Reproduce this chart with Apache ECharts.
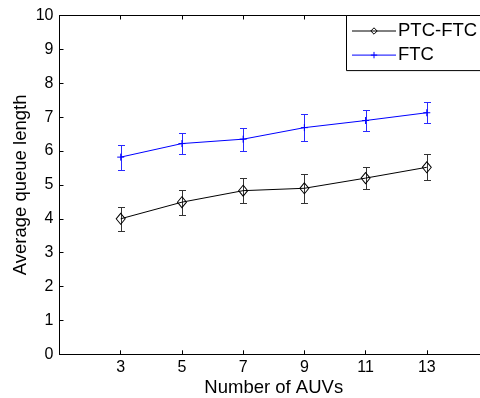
<!DOCTYPE html>
<html>
<head>
<meta charset="utf-8">
<script src="https://cdn.jsdelivr.net/npm/echarts/dist/echarts.min.js"></script>
<style>
  html, body { margin: 0; padding: 0; background: #fff; }
  #chart { width: 480px; height: 398px; }
</style>
</head>
<body>
<div id="chart"></div>
<script>
// Number of AUVs on the x axis
const auvCounts = [3, 5, 7, 9, 11, 13];
const xTicks = [3, 5, 7, 9, 11, 13];

// Mean queue length and half-width of the error bar for each scheme
const ptcFtcMean = [4.00, 4.49, 4.83, 4.90, 5.20, 5.52];
const ptcFtcErr  = [0.36, 0.37, 0.36, 0.43, 0.33, 0.39];
const ftcMean    = [5.82, 6.22, 6.35, 6.69, 6.90, 7.13];
const ftcErr     = [0.37, 0.30, 0.34, 0.40, 0.31, 0.31];

const FONT = '"Liberation Sans", Arial, sans-serif';

function pairs(xs, ys) { return xs.map((x, i) => [x, ys[i]]); }
function bars(xs, ys, es) { return xs.map((x, i) => [x, ys[i] - es[i], ys[i] + es[i]]); }

function errorBarSeries(name, data, color) {
  return {
    type: 'custom',
    name: name,
    data: data,
    z: 1,
    silent: true,
    renderItem: function (params, api) {
      const x = api.value(0);
      const top = api.coord([x, api.value(2)]);
      const bot = api.coord([x, api.value(1)]);
      const cx = Math.round(top[0]) + 0.5;
      const ty = Math.round(top[1]) + 0.5;
      const by = Math.round(bot[1]) + 0.5;
      const half = 3.5;
      const style = { stroke: color, lineWidth: 1, fill: null };
      return {
        type: 'group',
        children: [
          { type: 'line', shape: { x1: cx, y1: ty, x2: cx, y2: by }, style: style },
          { type: 'line', shape: { x1: cx - half, y1: ty, x2: cx + half, y2: ty }, style: style },
          { type: 'line', shape: { x1: cx - half, y1: by, x2: cx + half, y2: by }, style: style }
        ]
      };
    }
  };
}

const chart = echarts.init(document.getElementById('chart'), null, { renderer: 'canvas' });

chart.setOption({
  animation: false,
  backgroundColor: '#fff',
  textStyle: { fontFamily: FONT },
  // the axes box runs past the right edge of the canvas
  grid: {
    left: 59.5, top: 15.5, width: 428.5, height: 338.8,
    containLabel: false, outerBoundsMode: 'none'
  },
  legend: {
    data: ['PTC-FTC', 'FTC'],
    orient: 'vertical',
    left: 346.5,
    top: 15.5,
    padding: [6, 40, 6, 5],
    itemWidth: 44,
    itemHeight: 8,
    itemGap: 5.1,
    backgroundColor: '#fff',
    borderColor: '#000',
    borderWidth: 1,
    borderRadius: 0,
    lineStyle: { width: 1 },
    itemStyle: { borderWidth: 1 },
    textStyle: { fontFamily: FONT, fontSize: 18.5, color: '#000', padding: [0, 0, 0, -3] }
  },
  xAxis: [
    {
      type: 'value',
      min: 1,
      max: 15,
      name: 'Number of AUVs',
      nameLocation: 'middle',
      nameGap: 24,
      nameMoveOverlap: false,
      nameTextStyle: { fontFamily: FONT, fontSize: 18.5, color: '#000' },
      splitLine: { show: false },
      axisLine: { show: true, lineStyle: { color: '#000', width: 1 } },
      axisTick: { show: true, inside: true, length: 4, customValues: xTicks, lineStyle: { color: '#000' } },
      axisLabel: { show: true, customValues: xTicks, margin: 5, fontFamily: FONT, fontSize: 16, color: '#000' }
    },
    {
      type: 'value',
      position: 'top',
      min: 1,
      max: 15,
      splitLine: { show: false },
      axisLine: { show: true, onZero: false, lineStyle: { color: '#000', width: 1 } },
      axisTick: { show: true, inside: true, length: 4, customValues: xTicks, lineStyle: { color: '#000' } },
      axisLabel: { show: false }
    }
  ],
  yAxis: {
    type: 'value',
    min: 0,
    max: 10,
    interval: 1,
    name: 'Average queue length',
    nameLocation: 'middle',
    nameGap: 29,
    nameMoveOverlap: false,
    nameTextStyle: { fontFamily: FONT, fontSize: 18.5, color: '#000' },
    splitLine: { show: false },
    axisLine: { show: true, lineStyle: { color: '#000', width: 1 } },
    axisTick: { show: true, inside: true, length: 4, lineStyle: { color: '#000' } },
    axisLabel: { margin: 6, fontFamily: FONT, fontSize: 16, color: '#000' }
  },
  series: [
    errorBarSeries('ptc-err', bars(auvCounts, ptcFtcMean, ptcFtcErr), '#333'),
    errorBarSeries('ftc-err', bars(auvCounts, ftcMean, ftcErr), '#2a2aff'),
    {
      name: 'PTC-FTC',
      type: 'line',
      data: pairs(auvCounts, ptcFtcMean),
      z: 3,
      symbol: 'diamond',
      symbolSize: [9, 11],
      showAllSymbol: true,
      lineStyle: { color: '#000', width: 1 },
      itemStyle: { color: 'rgba(0,0,0,0)', borderColor: '#000', borderWidth: 1 }
    },
    {
      name: 'FTC',
      type: 'line',
      data: pairs(auvCounts, ftcMean),
      z: 3,
      symbol: 'path://M5,0L5,10M0,5L10,5',
      symbolSize: 7,
      showAllSymbol: true,
      lineStyle: { color: '#0000ff', width: 1 },
      itemStyle: { color: 'rgba(0,0,0,0)', borderColor: '#0000ff', borderWidth: 1 }
    }
  ]
});
</script>
</body>
</html>
